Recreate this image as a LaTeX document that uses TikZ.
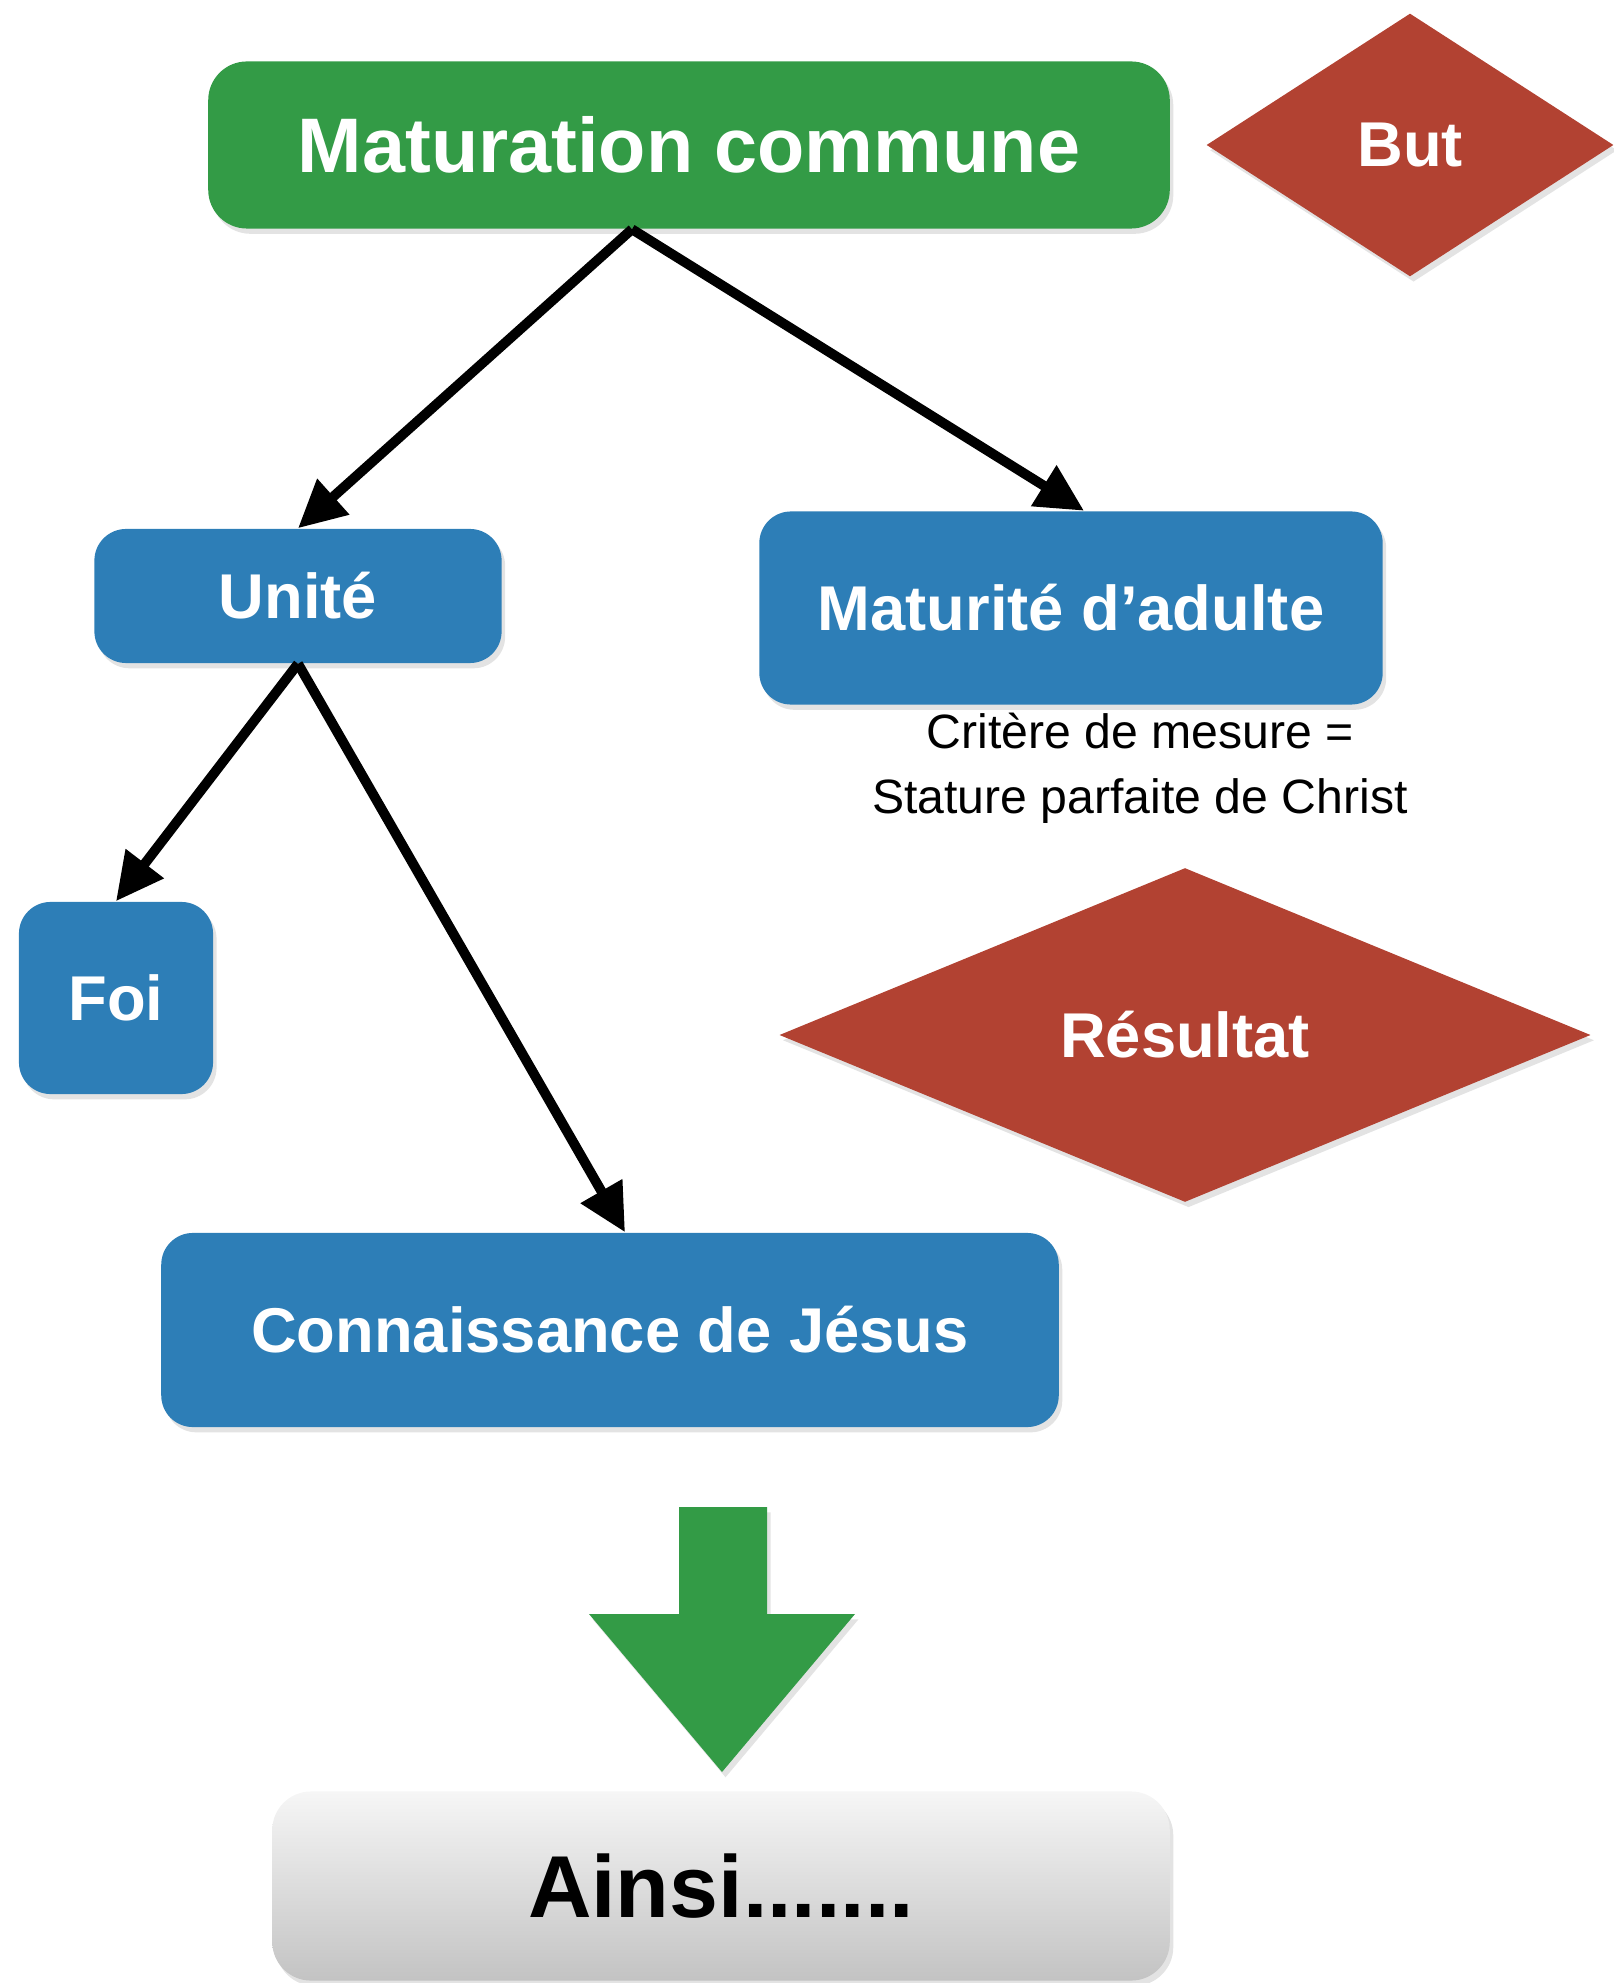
\documentclass[tikz,border=0pt]{standalone}
\usepackage{fontspec}
\setmainfont{Liberation Sans}
\usetikzlibrary{positioning,shapes.geometric,arrows.meta,shadows}

\definecolor{mgreen}{HTML}{339B46}
\definecolor{mblue}{HTML}{2D7EB7}
\definecolor{mred}{HTML}{B24232}
\definecolor{ainsitop}{HTML}{F6F6F6}
\definecolor{ainsibot}{HTML}{C3C3C3}

\begin{document}
\begin{tikzpicture}[
    x=0.01cm, y=-0.01cm,
 boxshadow/.style = {drop shadow={opacity=0.22,shadow xshift=1pt,shadow yshift=-1.5pt}},
  greenbox/.style = {
        rectangle, rounded corners=11pt, fill=mgreen, text=white,
        font=\bfseries\fontsize{22pt}{26pt}\selectfont,
        inner sep=0pt, boxshadow},
   bluebox/.style = {
        rectangle, rounded corners=9pt, fill=mblue, text=white,
        font=\bfseries\fontsize{18pt}{22pt}\selectfont,
        inner sep=0pt, boxshadow},
  redkite/.style = {
        diamond, fill=mred, text=white,
        font=\bfseries\fontsize{18pt}{22pt}\selectfont,
        inner sep=0pt, boxshadow},
  ainsibox/.style = {
        rectangle, rounded corners=11pt, top color=ainsitop, bottom color=ainsibot,
        font=\bfseries\fontsize{25pt}{30pt}\selectfont,
        inner sep=0pt, boxshadow},
     arrow/.style = {line width=2.8pt,-{Triangle[length=13.5pt,width=13pt]}}
                    ]
\useasboundingbox (0,0) rectangle (1613,1983);
% the goal at the top
\node (mat) [greenbox, minimum width=9.61cm, minimum height=1.67cm]
            at (689,145) {Maturation commune};
\node (but) [redkite, minimum width=4.07cm, minimum height=2.63cm]
            at (1410,145) {But};
% the second row
\node (unite)   [bluebox, minimum width=4.07cm, minimum height=1.34cm]
            at (298,596) {Unité};
\node (madulte) [bluebox, minimum width=6.23cm, minimum height=1.93cm]
            at (1071,608) {Maturité d’adulte};
\node (critere) [align=center, font=\fontsize{13.7pt}{18.4pt}\selectfont]
            at (1140,768) {Critère de mesure =\\ Stature parfaite de Christ};
% the third row
\node (foi)     [bluebox, minimum width=1.94cm, minimum height=1.92cm]
            at (116,998) {Foi};
\node (result)  [redkite, minimum width=8.11cm, minimum height=3.34cm]
            at (1185,1035) {Résultat};
\node (conn)    [bluebox, minimum width=8.97cm, minimum height=1.94cm]
            at (610,1330) {Connaissance de Jésus};
% the conclusion
\node (ainsi)   [ainsibox, minimum width=8.97cm, minimum height=1.89cm]
            at (721,1886) {Ainsi.......};
% the arrows
\draw[arrow] ([xshift=-5.7mm] mat.south) coordinate (m) -- (unite.north);
\draw[arrow] (m) -- ([xshift=1.3mm] madulte.north);
\draw[arrow] (unite.south) -- (foi.north);
\draw[arrow] (unite.south) -- ([xshift=1.5mm] conn.north);
% the big green arrow
\fill[mgreen, boxshadow] (679,1507) -- (767,1507) -- (767,1614) -- (855,1614)
        -- (722,1772) -- (589,1614) -- (679,1614) -- cycle;
\end{tikzpicture}
\end{document}
